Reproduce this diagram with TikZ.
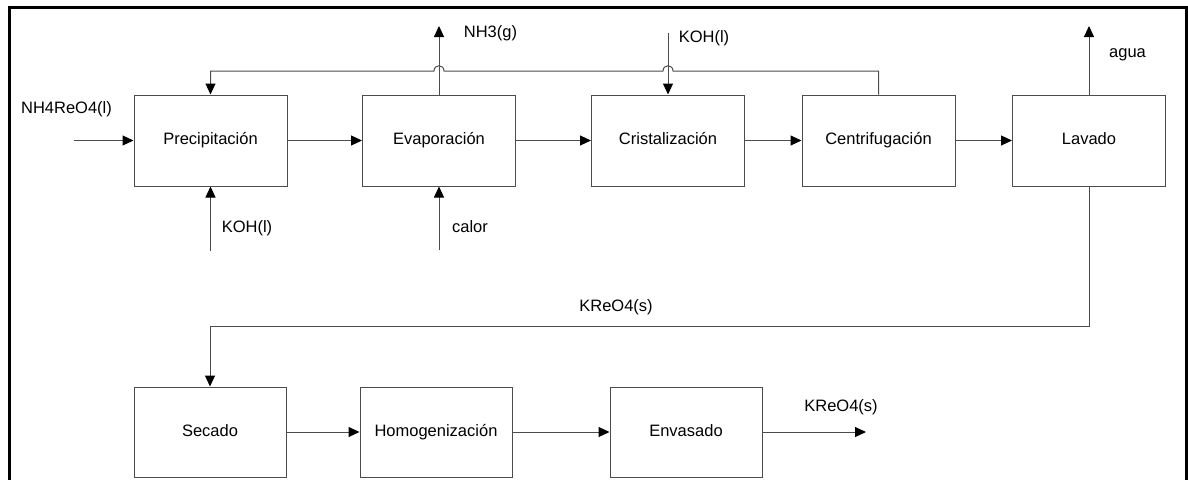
\documentclass[tikz,border=0pt]{standalone}
\usepackage{fontspec}
\setmainfont{Liberation Sans}
\usetikzlibrary{arrows.meta}
\begin{document}
\begin{tikzpicture}[x=1pt,y=-1pt,
  font=\fontsize{16.5}{20}\selectfont,
  unit/.style={draw=black!70, line width=1pt, minimum width=153pt, minimum height=91pt,
    inner sep=0pt, text height=12pt, text depth=3.5pt},
  pipe/.style={draw=black!70, line width=1pt},
  flow/.style={pipe, -{Triangle[length=11pt,width=10pt,color=black]}},
  tag/.style={inner sep=0pt, text height=12pt, text depth=3.5pt}]
\useasboundingbox (0,0) rectangle (1188,479);
% outer frame, open at the bottom
\draw[line width=3.5pt] (9.5,500) -- (9.5,7.5) -- (1186.5,7.5) -- (1186.5,500);

% process units, upper line
\node[unit] (prec) at (210.5,140.5) {Precipitación};
\node[unit] (evap) at (439,140.5) {Evaporación};
\node[unit] (cris) at (668,140.5) {Cristalización};
\node[unit] (cent) at (878.5,140.5) {Centrifugación};
\node[unit] (lava) at (1089,140.5) {Lavado};
% process units, lower line
\node[unit, minimum width=152pt, minimum height=90pt] (seca) at (210,432) {Secado};
\node[unit, minimum width=152pt, minimum height=90pt] (homo) at (436,432) {Homogenización};
\node[unit, minimum width=152pt, minimum height=90pt] (enva) at (686,432) {Envasado};

% free ends of feed and vent streams
\coordinate (feed) at (74,140.5);
\coordinate (kohin) at (210.5,251);
\coordinate (heat) at (439,250);
\coordinate (vent) at (439,26);
\coordinate (kohtop) at (668,33);
\coordinate (water) at (1089,26);
\coordinate (product) at (866,432);

% main line
\draw[flow] (feed) -- (prec.west);
\draw[flow] (prec) -- (evap);
\draw[flow] (evap) -- (cris);
\draw[flow] (cris) -- (cent);
\draw[flow] (cent) -- (lava);
\draw[flow] (kohin) -- (prec.south);
\draw[flow] (heat) -- (evap.south);
\draw[flow] (evap.north) -- (vent);
\draw[flow] (kohtop) -- (cris.north);
\draw[flow] (lava.north) -- (water);

% mother liquor recycle, hopping over the crossing streams
\draw[flow] (cent.north) -- (878.5,71) -- (673,71)
  .. controls (673,64) and (663,64) .. (663,71) -- (444,71)
  .. controls (444,64) and (434,64) .. (434,71) -- (210.5,71) -- (prec.north);

% solid product to drying
\draw[flow] (lava.south) -- (1089,326) -- (210,326) -- (seca.north);
\draw[flow] (seca) -- (homo);
\draw[flow] (homo) -- (enva);
\draw[flow] (enva.east) -- (product);

% stream labels
\node[tag] (lfeed) at (66.5,109) {NH4ReO4(l)};
\node[tag] (lkohin) at (247,228) {KOH(l)};
\node[tag] (lheat) at (470,228) {calor};
\node[tag] (lvent) at (490.5,33) {NH3(g)};
\node[tag] (lkohtop) at (704,38) {KOH(l)};
\node[tag] (lwater) at (1127.5,53) {agua};
\node[tag] (lsolid) at (616,307) {KReO4(s)};
\node[tag] (lprod) at (841,407) {KReO4(s)};
\end{tikzpicture}
\end{document}
